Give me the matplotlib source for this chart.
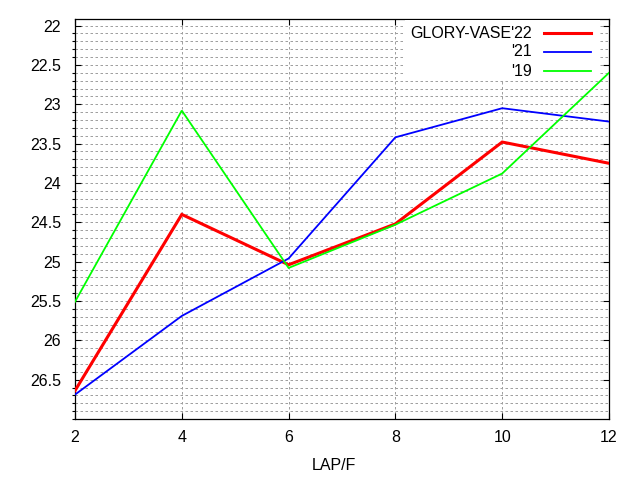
import matplotlib
matplotlib.use("Agg")
import matplotlib.pyplot as plt
from matplotlib.lines import Line2D
from matplotlib.patches import Rectangle
from matplotlib.ticker import MultipleLocator, FixedLocator

plt.rcParams['font.family'] = ['Liberation Sans', 'DejaVu Sans']

laps = [2, 4, 6, 8, 10, 12]
s22 = [26.64, 24.40, 25.04, 24.52, 23.48, 23.75]
s21 = [26.69, 25.69, 24.96, 23.42, 23.05, 23.22]
s19 = [25.51, 23.08, 25.08, 24.53, 23.88, 22.60]
labels = ["GLORY-VASE'22", "'21", "'19"]
colors = ['#ff0000', '#0000ff', '#00ff00']
widths = [2.2, 1.3, 1.3]
series = [s22, s21, s19]
yticks = [22, 22.5, 23, 23.5, 24, 24.5, 25, 25.5, 26, 26.5]

FS = 11.5
fig = plt.figure(figsize=(6.4, 4.8), dpi=100)
L, R, T, B = 75, 609, 19.3, 419
ax = fig.add_axes([L/640, 1-B/480, (R-L)/640, (B-T)/480])

for s, c, w in zip(series, colors, widths):
    ax.plot(laps, s, color=c, lw=w, zorder=3, solid_joinstyle='miter')

ax.set_xlim(2, 12)
ax.set_ylim(27.0, 21.92)
ax.set_xticks(laps)
ax.yaxis.set_major_locator(FixedLocator(yticks))
ax.set_yticklabels([('%g' % v) for v in yticks])
ax.yaxis.set_minor_locator(MultipleLocator(0.1))

ax.grid(True, which='major', axis='x', color='#a0a0a0', lw=0.72, ls=(0, (2.5, 2.5)))
ax.grid(True, which='both', axis='y', color='#a0a0a0', lw=0.72, ls=(0, (2.5, 2.5)))
ax.set_axisbelow(True)

ax.tick_params(direction='in', top=True, right=True, labelsize=FS, width=0.8)
ax.tick_params(which='major', length=4.5)
ax.tick_params(which='minor', length=2.5, width=0.8)
ax.tick_params(axis='x', pad=8)
ax.tick_params(axis='y', pad=10)
for sp in ax.spines.values():
    sp.set_linewidth(0.9)

ax.set_xlabel('LAP/F', fontsize=FS, x=0.485, labelpad=9)

# opaque key
fig.patches.append(Rectangle((405/640, 1-80/480), (600-405)/640, (80-20)/480,
                             transform=fig.transFigure, facecolor='white',
                             edgecolor='none', zorder=5))
rows = [33.3, 51.7, 71.0]
for lab, c, w, yy in zip(labels, colors, widths, rows):
    fig.text(532/640, 1-yy/480, lab, ha='right', va='center', fontsize=FS, zorder=6)
    fig.lines.append(Line2D([544/640, 591/640], [1-yy/480, 1-yy/480],
                            transform=fig.transFigure, color=c, lw=w, zorder=6))

fig.savefig('out.png', dpi=100)
